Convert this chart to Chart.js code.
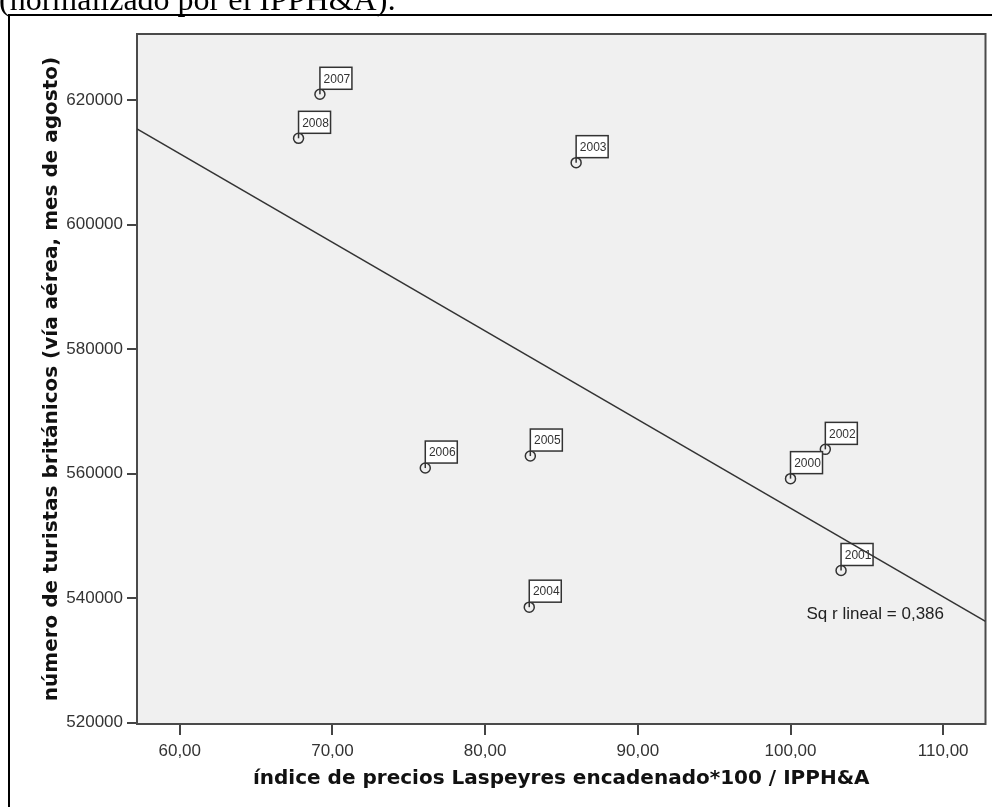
<!DOCTYPE html>
<html>
<head>
<meta charset="utf-8">
<script src="https://cdn.jsdelivr.net/npm/chart.js@4.4.1/dist/chart.umd.min.js"></script>
<style>
  html, body { margin: 0; padding: 0; background: #ffffff; }
  canvas { display: block; }
</style>
</head>
<body>
<canvas id="chart" width="992" height="807"></canvas>
<script>
// Turistas británicos (vía aérea, agosto) frente al índice de precios, 2000-2008
const years      = ['2000', '2001', '2002', '2003', '2004', '2005', '2006', '2007', '2008'];
const priceIndex = [100.00, 103.31, 102.28, 85.96, 82.89, 82.96, 76.08, 69.18, 67.78];
const tourists   = [559200, 544450, 563900, 609940, 538560, 562830, 560900, 620920, 613850];

const xTicks = [60, 70, 80, 90, 100, 110];
const yTicks = [520000, 540000, 560000, 580000, 600000, 620000];
const xRange = [57.2, 112.77];
const yRange = [519800, 630600];

const xTitle = 'índice de precios Laspeyres encadenado*100 / IPPH&A';
const yTitle = 'número de turistas británicos (vía aérea, mes de agosto)';
const headText = '(normalizado por el IPPH&A):';

// Ordinary least squares fit of tourists on price index
const n = priceIndex.length;
const mx = priceIndex.reduce((a, b) => a + b, 0) / n;
const my = tourists.reduce((a, b) => a + b, 0) / n;
let sxy = 0, sxx = 0, syy = 0;
for (let i = 0; i < n; i++) {
  const dx = priceIndex[i] - mx, dy = tourists[i] - my;
  sxy += dx * dy; sxx += dx * dx; syy += dy * dy;
}
const slope = sxy / sxx;
const intercept = my - slope * mx;
const rSquared = (sxy * sxy) / (sxx * syy);
const fitAt = x => intercept + slope * x;

const points = priceIndex.map((x, i) => ({ x: x, y: tourists[i] }));
const fitLine = xRange.map(x => ({ x: x, y: fitAt(x) }));

const comma2 = v => v.toFixed(2).replace('.', ',');
const tickFont = { family: '"Liberation Sans", Arial, sans-serif', size: 17 };
const titleFont = { family: '"DejaVu Sans", Verdana, sans-serif', size: 20, weight: 'bold' };

// Plot panel background and frame
const panelPlugin = {
  id: 'panel',
  beforeDraw(chart) {
    const { ctx, chartArea: a } = chart;
    ctx.save();
    ctx.fillStyle = '#f0f0f0';
    ctx.fillRect(a.left, a.top, a.right - a.left, a.bottom - a.top);
    ctx.restore();
  },
  beforeDatasetsDraw(chart) {
    const { ctx, chartArea: a } = chart;
    ctx.save();
    ctx.strokeStyle = '#4a4a4a';
    ctx.lineWidth = 2;
    ctx.strokeRect(a.left, a.top, a.right - a.left, a.bottom - a.top);
    ctx.restore();
  }
};

// Year tags beside each point
const tagPlugin = {
  id: 'yearTags',
  afterDatasetDraw(chart, args) {
    if (args.index !== 0) return;
    const { ctx } = chart;
    const meta = chart.getDatasetMeta(0);
    ctx.save();
    ctx.font = '12px "Liberation Sans", Arial, sans-serif';
    ctx.textBaseline = 'middle';
    ctx.textAlign = 'center';
    meta.data.forEach((pt, i) => {
      const left = pt.x, bottom = pt.y - 5, w = 32, h = 22;
      ctx.fillStyle = '#ffffff';
      ctx.fillRect(left, bottom - h, w, h);
      ctx.strokeStyle = '#333333';
      ctx.lineWidth = 1.5;
      ctx.strokeRect(left, bottom - h, w, h);
      ctx.beginPath();
      ctx.moveTo(left, bottom);
      ctx.lineTo(left, pt.y);
      ctx.stroke();
      ctx.fillStyle = '#333333';
      ctx.fillText(years[i], left + w / 2 + 1, bottom - h / 2 + 1);
    });
    ctx.restore();
  }
};

// Fit statistic, heading text and outer frame
const decorPlugin = {
  id: 'decor',
  afterDraw(chart) {
    const { ctx, chartArea: a } = chart;
    ctx.save();
    ctx.fillStyle = '#222222';
    ctx.font = '17px "Liberation Sans", Arial, sans-serif';
    ctx.textBaseline = 'middle';
    ctx.textAlign = 'left';
    ctx.fillText('Sq r lineal = ' + rSquared.toFixed(3).replace('.', ','), a.right - 179, a.bottom - 110);

    ctx.fillStyle = '#000000';
    ctx.font = '32px "Liberation Serif", "Times New Roman", serif';
    ctx.textBaseline = 'alphabetic';
    ctx.fillText(headText, -1, 10);

    ctx.strokeStyle = '#000000';
    ctx.lineWidth = 2;
    ctx.beginPath();
    ctx.moveTo(9, 807);
    ctx.lineTo(9, 15);
    ctx.lineTo(992, 15);
    ctx.stroke();
    ctx.restore();
  }
};

new Chart(document.getElementById('chart'), {
  type: 'scatter',
  data: {
    datasets: [
      {
        label: 'turistas',
        data: points,
        order: 1,
        pointStyle: 'circle',
        pointRadius: 5,
        pointHoverRadius: 5,
        pointBorderWidth: 1.5,
        pointBorderColor: '#333333',
        pointBackgroundColor: 'rgba(0,0,0,0)'
      },
      {
        label: 'ajuste lineal',
        type: 'line',
        data: fitLine,
        order: 0,
        borderColor: '#333333',
        borderWidth: 1.5,
        pointRadius: 0,
        fill: false
      }
    ]
  },
  options: {
    responsive: false,
    animation: false,
    devicePixelRatio: 1,
    layout: { padding: { left: 10, right: 4, top: 34, bottom: 0 } },
    plugins: { legend: { display: false }, tooltip: { enabled: false } },
    scales: {
      x: {
        type: 'linear',
        min: xRange[0],
        max: xRange[1],
        afterBuildTicks: s => { s.ticks = xTicks.map(v => ({ value: v })); },
        afterFit: s => { s.height = 83; },
        border: { display: false },
        grid: { drawOnChartArea: false, drawTicks: true, tickLength: 11, color: '#444444', lineWidth: 2 },
        ticks: { font: tickFont, color: '#333333', padding: 6, maxRotation: 0, autoSkip: false, callback: v => comma2(v) },
        title: { display: true, text: xTitle, font: titleFont, color: '#111111', padding: { top: 0, bottom: 16 } }
      },
      y: {
        type: 'linear',
        min: yRange[0],
        max: yRange[1],
        afterBuildTicks: s => { s.ticks = yTicks.map(v => ({ value: v })); },
        afterFit: s => { s.width = 127; },
        border: { display: false },
        grid: { drawOnChartArea: false, drawTicks: true, tickLength: 10, color: '#444444', lineWidth: 2 },
        ticks: { font: tickFont, color: '#333333', padding: 4, autoSkip: false, callback: v => String(v) },
        title: { display: true, text: yTitle, font: titleFont, color: '#111111', padding: { top: 30, bottom: 0 } }
      }
    }
  },
  plugins: [panelPlugin, tagPlugin, decorPlugin]
});
</script>
</body>
</html>
